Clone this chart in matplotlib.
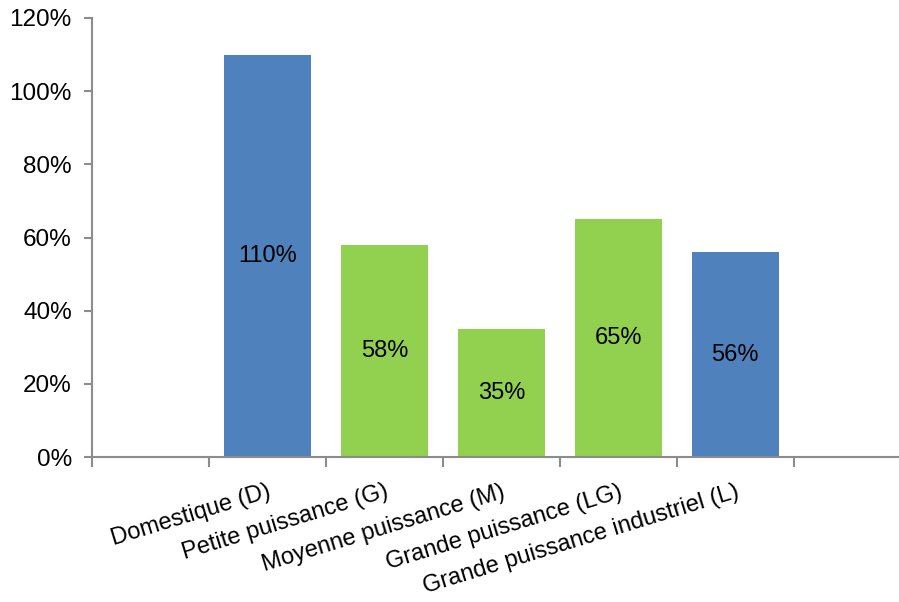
import matplotlib
matplotlib.use("Agg")
import matplotlib.pyplot as plt
from matplotlib.ticker import FuncFormatter

# data
categories = ["Domestique (D)", "Petite puissance (G)", "Moyenne puissance (M)",
              "Grande puissance (LG)", "Grande puissance industriel (L)"]
values = [110, 58, 35, 65, 56]
colors = ["#4F81BD", "#92D050", "#92D050", "#92D050", "#4F81BD"]
yticks = [0, 20, 40, 60, 80, 100, 120]

plt.rcParams['font.family'] = ['Liberation Sans', 'DejaVu Sans']
axis_gray = "#8C8C8C"

fig = plt.figure(figsize=(8.99, 6.02), dpi=100)
ax = fig.add_axes([92/899, 1 - 457/602, 1 - 92/899, (457 - 18)/602])

# first slot of the category axis is empty, bars sit in slots 1..5
xpos = list(range(1, len(categories) + 1))
bars = ax.bar(xpos, values, width=0.74, color=colors, zorder=2)

for b, v in zip(bars, values):
    ax.text(b.get_x() + b.get_width()/2, v/2, f"{v}%", ha="center", va="center",
            fontsize=17, color="black")

ax.set_xlim(-0.5, 6.4)
ax.set_ylim(0, 120)
ax.set_yticks(yticks)
ax.yaxis.set_major_formatter(FuncFormatter(lambda y, _: f"{y:.0f}%"))
ax.tick_params(axis="y", labelsize=17.5, length=6, width=1.5, color=axis_gray, pad=8.5)

# tick marks between categories, labels at the bar centres
ax.set_xticks([k - 0.5 for k in range(0, 7)], minor=True)
ax.set_xticks(xpos)
ax.set_xticklabels(categories, rotation=17, ha="right", rotation_mode="anchor",
                   fontsize=17)
ax.tick_params(axis="x", which="major", length=0, pad=17)
ax.tick_params(axis="x", which="minor", length=7, width=1.5, color=axis_gray)

for s in ["top", "right"]:
    ax.spines[s].set_visible(False)
for s in ["left", "bottom"]:
    ax.spines[s].set_color(axis_gray)
    ax.spines[s].set_linewidth(1.5)

fig.savefig("out.png", dpi=100)
